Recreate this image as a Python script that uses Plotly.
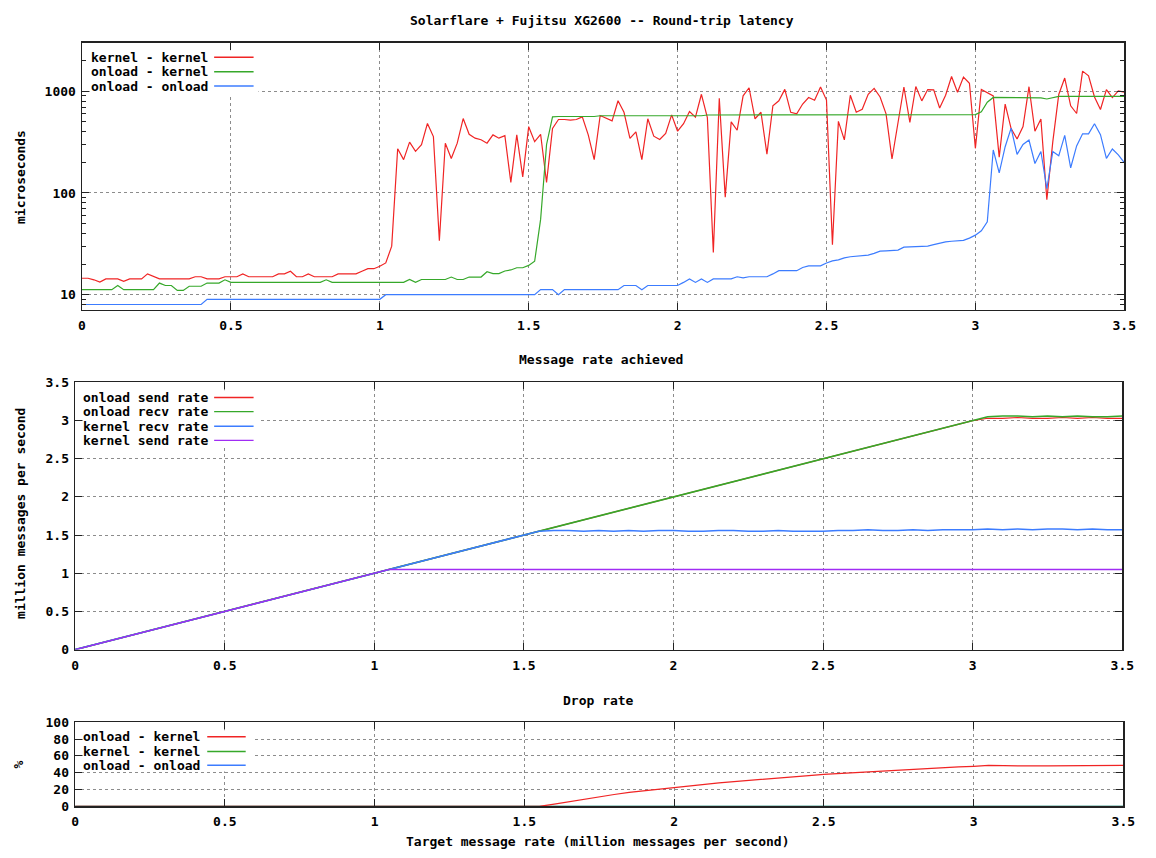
import plotly.graph_objects as go

# The page body keeps the browser's default 8px margin, so the figure is drawn
# 8px smaller and every pixel position below is given in window coordinates.
OFF = 8
W, H = 1156 - OFF, 858 - OFF

# ---------------- data: round-trip latency (microseconds) ----------------
top_x = [round(i * 0.02, 2) for i in range(176)]  # target rate sweep, M msg/s

kernel_kernel = [
    14.5, 14.5, 14.0, 13.3, 14.3, 14.3, 14.3, 13.5, 14.3, 14.3,
    14.3, 16.0, 15.0, 14.3, 14.3, 14.3, 14.3, 14.3, 14.3, 15.0,
    15.0, 14.3, 14.3, 14.3, 15.0, 15.0, 15.0, 16.0, 15.0, 15.0,
    15.0, 15.0, 15.0, 16.0, 16.0, 17.0, 15.0, 15.0, 16.0, 15.0,
    15.0, 15.0, 15.0, 16.0, 16.0, 16.0, 16.0, 17.0, 18.0, 18.0,
    19.0, 20.5, 30, 272, 213, 316, 257, 298, 483, 359,
    34, 309, 218, 309, 540, 378, 346, 334, 309, 373,
    346, 366, 127, 373, 144, 449, 320, 378, 127, 431,
    528, 528, 520, 528, 560, 373, 213, 578, 540, 512,
    807, 622, 344, 399, 213, 537, 362, 336, 385, 586,
    405, 480, 632, 557, 935, 550, 26, 855, 91, 500,
    414, 902, 1084, 537, 622, 241, 722, 807, 1045, 622,
    600, 750, 869, 818, 1102, 820, 31, 506, 333, 915,
    622, 665, 935, 1070, 880, 600, 216, 480, 1102, 495,
    1115, 805, 1040, 1035, 685, 915, 1400, 980, 1380, 1200,
    275, 1040, 965, 900, 225, 748, 430, 340, 450, 1110,
    405, 535, 86, 320, 930, 1350, 720, 605, 1580, 1420,
    880, 663, 1040, 866, 1010, 980,
]

onload_kernel = [
    11.2, 11.2, 11.2, 11.2, 11.2, 11.2, 12.3, 11.2, 11.2, 11.2,
    11.2, 11.2, 11.2, 13.0, 12.3, 12.3, 11.0, 11.0, 12.1, 12.1,
    12.1, 13.0, 13.0, 13.0, 14.0, 13.2, 13.2, 13.2, 13.2, 13.2,
    13.2, 13.2, 13.2, 13.2, 13.2, 13.2, 13.2, 13.2, 13.2, 13.2,
    13.2, 14.0, 13.2, 13.2, 13.2, 13.2, 13.2, 13.2, 13.2, 13.2,
    13.2, 13.2, 13.2, 13.2, 13.2, 14.1, 13.2, 14.1, 14.1, 14.1,
    14.1, 14.1, 14.9, 14.1, 14.1, 14.9, 14.9, 14.9, 16.8, 16.1,
    16.1, 17.1, 17.5, 18.4, 18.4, 19.4, 21.3, 55, 300, 560,
    565, 565, 565, 565, 565, 565, 565, 575, 575, 575,
    575, 575, 575, 575, 575, 575, 575, 575, 575, 575,
    575, 575, 575, 575, 575, 585, 585, 585, 585, 585,
    585, 585, 585, 585, 585, 585, 585, 585, 585, 585,
    585, 585, 585, 585, 585, 585, 585, 585, 585, 585,
    585, 585, 585, 585, 585, 585, 585, 585, 585, 585,
    585, 585, 585, 585, 585, 585, 585, 585, 585, 585,
    590, 630, 780, 870, 870, 870, 870, 870, 870, 870,
    870, 860, 840, 870, 890, 890, 890, 890, 890, 890,
    890, 890, 890, 890, 890, 890,
]

onload_onload = [
    8.0, 8.0, 8.0, 8.0, 8.0, 8.0, 8.0, 8.0, 8.0, 8.0,
    8.0, 8.0, 8.0, 8.0, 8.0, 8.0, 8.0, 8.0, 8.0, 8.0,
    8.0, 9.0, 9.0, 9.0, 9.0, 9.0, 9.0, 9.0, 9.0, 9.0,
    9.0, 9.0, 9.0, 9.0, 9.0, 9.0, 9.0, 9.0, 9.0, 9.0,
    9.0, 9.0, 9.0, 9.0, 9.0, 9.0, 9.0, 9.0, 9.0, 9.0,
    9.0, 10.0, 10.0, 10.0, 10.0, 10.0, 10.0, 10.0, 10.0, 10.0,
    10.0, 10.0, 10.0, 10.0, 10.0, 10.0, 10.0, 10.0, 10.0, 10.0,
    10.0, 10.0, 10.0, 10.0, 10.0, 10.0, 10.0, 11.2, 11.2, 11.2,
    10.0, 11.2, 11.2, 11.2, 11.2, 11.2, 11.2, 11.2, 11.2, 11.2,
    11.2, 12.3, 12.3, 12.3, 11.2, 12.3, 12.3, 12.3, 12.3, 12.3,
    12.3, 13.2, 14.3, 13.2, 14.3, 13.2, 14.3, 14.3, 14.3, 14.3,
    15.0, 14.6, 15.0, 15.0, 15.0, 15.0, 16.0, 17.2, 17.2, 17.2,
    17.2, 18.5, 19.2, 19.2, 19.2, 20.5, 21.5, 22.0, 23.0, 23.6,
    24.0, 24.3, 24.5, 25.5, 26.8, 27.0, 27.2, 27.4, 29.3, 29.5,
    29.7, 30.0, 30.0, 31.0, 32.2, 33.0, 33.5, 34.0, 34.2, 36.0,
    38.5, 42.5, 52, 265, 158, 285, 434, 240, 300, 332,
    195, 256, 110, 256, 232, 368, 177, 290, 382, 382,
    480, 375, 219, 271, 237, 199,
]

# ---------------- data: message rate achieved (million msg/s) ----------------
rate_x = [round(i * 0.05, 2) for i in range(71)]

onload_send = [
    0.00, 0.05, 0.10, 0.15, 0.20, 0.25, 0.30, 0.35, 0.40, 0.45,
    0.50, 0.55, 0.60, 0.65, 0.70, 0.75, 0.80, 0.85, 0.90, 0.95,
    1.00, 1.05, 1.10, 1.15, 1.20, 1.25, 1.30, 1.35, 1.40, 1.45,
    1.50, 1.55, 1.60, 1.65, 1.70, 1.75, 1.80, 1.85, 1.90, 1.95,
    2.00, 2.05, 2.10, 2.15, 2.20, 2.25, 2.30, 2.35, 2.40, 2.45,
    2.50, 2.55, 2.60, 2.65, 2.70, 2.75, 2.80, 2.85, 2.90, 2.95,
    3.00, 3.03, 3.03, 3.04, 3.03, 3.03, 3.04, 3.03, 3.04, 3.03,
    3.03,
]
onload_recv = [
    0.00, 0.05, 0.10, 0.15, 0.20, 0.25, 0.30, 0.35, 0.40, 0.45,
    0.50, 0.55, 0.60, 0.65, 0.70, 0.75, 0.80, 0.85, 0.90, 0.95,
    1.00, 1.05, 1.10, 1.15, 1.20, 1.25, 1.30, 1.35, 1.40, 1.45,
    1.50, 1.55, 1.60, 1.65, 1.70, 1.75, 1.80, 1.85, 1.90, 1.95,
    2.00, 2.05, 2.10, 2.15, 2.20, 2.25, 2.30, 2.35, 2.40, 2.45,
    2.50, 2.55, 2.60, 2.65, 2.70, 2.75, 2.80, 2.85, 2.90, 2.95,
    3.00, 3.05, 3.06, 3.06, 3.05, 3.06, 3.05, 3.06, 3.05, 3.05,
    3.06,
]
kernel_recv = [
    0.00, 0.05, 0.10, 0.15, 0.20, 0.25, 0.30, 0.35, 0.40, 0.45,
    0.50, 0.55, 0.60, 0.65, 0.70, 0.75, 0.80, 0.85, 0.90, 0.95,
    1.00, 1.05, 1.10, 1.15, 1.20, 1.25, 1.30, 1.35, 1.40, 1.45,
    1.50, 1.55, 1.56, 1.56, 1.55, 1.56, 1.55, 1.56, 1.55, 1.56,
    1.56, 1.55, 1.55, 1.56, 1.56, 1.55, 1.55, 1.56, 1.55, 1.55,
    1.55, 1.56, 1.56, 1.57, 1.56, 1.56, 1.57, 1.56, 1.57, 1.57,
    1.57, 1.58, 1.57, 1.58, 1.57, 1.58, 1.58, 1.57, 1.58, 1.57,
    1.57,
]
kernel_send = [
    0.00, 0.05, 0.10, 0.15, 0.20, 0.25, 0.30, 0.35, 0.40, 0.45,
    0.50, 0.55, 0.60, 0.65, 0.70, 0.75, 0.80, 0.85, 0.90, 0.95,
    1.00, 1.05, 1.05, 1.05, 1.05, 1.05, 1.05, 1.05, 1.05, 1.05,
    1.045, 1.05, 1.045, 1.05, 1.05, 1.05, 1.05, 1.05, 1.05, 1.05,
    1.05, 1.05, 1.05, 1.05, 1.05, 1.05, 1.05, 1.05, 1.05, 1.05,
    1.05, 1.05, 1.05, 1.05, 1.05, 1.05, 1.05, 1.05, 1.05, 1.05,
    1.05, 1.05, 1.05, 1.05, 1.05, 1.05, 1.05, 1.05, 1.05, 1.05,
    1.05,
]

# ---------------- data: drop rate (%) ----------------
drop_onload_kernel = [
    0, 0, 0, 0, 0, 0, 0, 0, 0, 0,
    0, 0, 0, 0, 0, 0, 0, 0, 0, 0,
    0, 0, 0, 0, 0, 0, 0, 0, 0, 0,
    0, 0, 2.5, 5.5, 8.5, 11.5, 14.0, 16.5, 18.5, 20.5,
    22.0, 24.0, 26.0, 27.8, 29.4, 31.0, 32.5, 34.0, 35.4, 36.6,
    38.0, 39.0, 40.2, 41.4, 42.5, 43.5, 44.5, 45.5, 46.3, 47.0,
    47.6, 48.6, 48.3, 48.6, 48.1, 48.2, 48.2, 48.2, 48.3, 48.5,
    48.7,
]
drop_kernel_kernel = [
    0, 0, 0, 0, 0, 0, 0, 0, 0, 0, 0, 0, 0, 0, 0, 0, 0, 0, 0, 0,
    0, 0, 0, 0, 0, 0, 0, 0, 0, 0, 0, 0, 0, 0, 0, 0, 0, 0, 0, 0,
    0, 0, 0, 0, 0, 0, 0, 0, 0, 0, 0, 0, 0, 0, 0, 0, 0, 0, 0, 0,
    0, 0, 0, 0, 0, 0, 0, 0, 0, 0, 0,
]
drop_onload_onload = [
    0, 0, 0, 0, 0, 0, 0, 0, 0, 0, 0, 0, 0, 0, 0, 0, 0, 0, 0, 0,
    0, 0, 0, 0, 0, 0, 0, 0, 0, 0, 0, 0, 0, 0, 0, 0, 0, 0, 0, 0,
    0, 0, 0, 0, 0, 0, 0, 0, 0, 0, 0, 0, 0, 0, 0, 0, 0, 0, 0, 0,
    0, 0, 0, 0, 0, 0, 0, 0, 0, 0, 0,
]

x_ticks = [0, 0.5, 1, 1.5, 2, 2.5, 3, 3.5]
x_ticktext = ["0", "0.5", "1", "1.5", "2", "2.5", "3", "3.5"]

# ---------------- styling ----------------
RED = "#f02424"
GREEN = "#36a82a"
BLUE = "#3c7cff"
PURPLE = "#a02cf4"
FONT = "DejaVu Sans Mono"
LW = 1.2


def pxx(x):
    return (x - OFF) / W


def pxy(y):
    return 1 - (y - OFF) / H


# plot frames in window pixels: (left, right, top, bottom)
TOP = (79, 1136, 36, 308)
MID = (72, 1134, 382, 654)
BOT = (72, 1135, 728, 813.5)

fig = go.Figure()


def line(x, y, color, xa, ya, name, width=LW):
    fig.add_trace(go.Scatter(x=x, y=y, mode="lines", name=name, showlegend=False,
                             line=dict(color=color, width=width), xaxis=xa, yaxis=ya,
                             hoverinfo="skip"))


line(top_x, kernel_kernel, RED, "x", "y", "kernel - kernel")
line(top_x, onload_kernel, GREEN, "x", "y", "onload - kernel")
line(top_x, onload_onload, BLUE, "x", "y", "onload - onload")

line(rate_x, onload_send, RED, "x2", "y2", "onload send rate")
line(rate_x, onload_recv, GREEN, "x2", "y2", "onload recv rate", width=1.7)
line(rate_x, kernel_recv, BLUE, "x2", "y2", "kernel recv rate", width=1.5)
line(rate_x, kernel_send, PURPLE, "x2", "y2", "kernel send rate", width=1.4)

line(rate_x, drop_onload_onload, BLUE, "x3", "y3", "onload - onload")
line(rate_x, drop_kernel_kernel, GREEN, "x3", "y3", "kernel - kernel")
line(rate_x, drop_onload_kernel, RED, "x3", "y3", "onload - kernel")

tickfont = dict(family=FONT, size=13, color="black", weight="bold")
common = dict(showline=True, linecolor="#222", linewidth=1.5, mirror="allticks",
              ticks="inside", ticklen=7, tickcolor="#222", tickwidth=1,
              showgrid=True, gridcolor="#8c8c8c", griddash="dot", gridwidth=1,
              zeroline=False, tickfont=tickfont, layer="above traces")
xcommon = dict(common, ticklabelstandoff=3)
ycommon = dict(common, ticklabelstandoff=2)


def xdom(f):
    return [pxx(f[0]), pxx(f[1])]


def ydom(f):
    return [pxy(f[3]), pxy(f[2])]


minor_vals = [2, 3, 4, 5, 6, 7, 8, 9, 20, 30, 40, 50, 60, 70, 80, 90,
              200, 300, 400, 500, 600, 700, 800, 900, 2000, 3000]

fig.update_layout(
    width=W, height=H, margin=dict(l=0, r=0, t=0, b=0), autosize=False,
    paper_bgcolor="white", plot_bgcolor="white", showlegend=False,
    xaxis=dict(xcommon, domain=xdom(TOP), anchor="y", range=[0, 3.5],
               tickmode="array", tickvals=x_ticks, ticktext=x_ticktext),
    yaxis=dict(ycommon, domain=ydom(TOP), anchor="x", type="log", range=[0.852, 3.48],
               tickmode="array", tickvals=[10, 100, 1000], ticktext=["10", "100", "1000"],
               minor=dict(ticks="inside", ticklen=4, tickcolor="#222", showgrid=False,
                          tickmode="array", tickvals=minor_vals)),
    xaxis2=dict(xcommon, domain=xdom(MID), anchor="y2", range=[0, 3.5],
                tickmode="array", tickvals=x_ticks, ticktext=x_ticktext),
    yaxis2=dict(ycommon, domain=ydom(MID), anchor="x2", range=[0, 3.5],
                tickmode="array", tickvals=[0, 0.5, 1, 1.5, 2, 2.5, 3, 3.5],
                ticktext=["0", "0.5", "1", "1.5", "2", "2.5", "3", "3.5"]),
    xaxis3=dict(xcommon, domain=xdom(BOT), anchor="y3", range=[0, 3.5],
                tickmode="array", tickvals=x_ticks, ticktext=x_ticktext),
    yaxis3=dict(ycommon, domain=ydom(BOT), anchor="x3", range=[0, 100],
                tickmode="array", tickvals=[0, 20, 40, 60, 80, 100],
                ticktext=["0", "20", "40", "60", "80", "100"]),
)

annots = []
shapes = []


def text(x, y, s, xanchor="center", angle=0):
    annots.append(dict(x=pxx(x), y=pxy(y), xref="paper", yref="paper", text=s,
                       showarrow=False, xanchor=xanchor, yanchor="middle",
                       textangle=angle, font=dict(family=FONT, size=13, color="black",
                                                  weight="bold")))


# titles
text(606, 14, "Solarflare + Fujitsu XG2600 -- Round-trip latency")
text(605, 359, "Message rate achieved")
text(603, 706, "Drop rate")
text(602, 849, "Target message rate (million messages per second)")
text(16, 173, "microseconds", angle=-90)
text(16, 515, "million messages per second", angle=-90)
text(15, 771, "%", angle=-90)


def legend(box, rows, labels, colors, tx, lx0, lx1):
    # white key box (covers the dotted grid, as gnuplot's key does)
    shapes.append(dict(type="rect", xref="paper", yref="paper",
                       x0=pxx(box[0]), x1=pxx(box[1]), y0=pxy(box[3]), y1=pxy(box[2]),
                       fillcolor="white", line=dict(width=0), layer="above"))
    for yy, lab, col in zip(rows, labels, colors):
        text(tx, yy, lab, xanchor="left")
        shapes.append(dict(type="line", xref="paper", yref="paper",
                           x0=pxx(lx0), x1=pxx(lx1), y0=pxy(yy), y1=pxy(yy),
                           line=dict(color=col, width=1.4), layer="above"))


legend((87, 258, 44, 90), [51, 65.7, 80.3],
       ["kernel - kernel", "onload - kernel", "onload - onload"],
       [RED, GREEN, BLUE], 86, 213, 253)
legend((80, 260, 390, 448), [397.3, 411.7, 426.7, 441],
       ["onload send rate", "onload recv rate", "kernel recv rate", "kernel send rate"],
       [RED, GREEN, BLUE, PURPLE], 78, 213, 253)
legend((80, 252, 736, 778), [742.7, 757.7, 771.7],
       ["onload - kernel", "kernel - kernel", "onload - onload"],
       [RED, GREEN, BLUE], 78, 206, 245)

fig.update_layout(annotations=annots, shapes=shapes)
fig.write_html("out.html", config={"displayModeBar": False, "staticPlot": True})
